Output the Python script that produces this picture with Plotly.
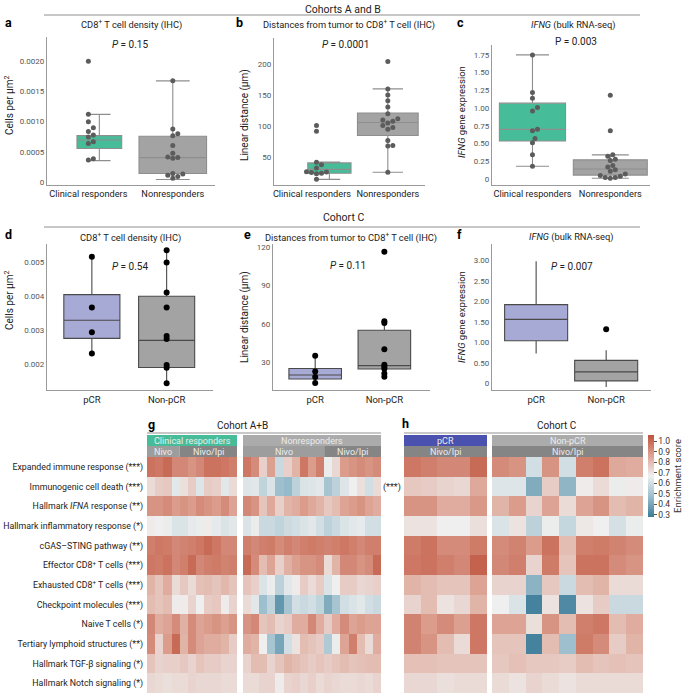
import numpy as np
import plotly.graph_objects as go

W, H = 685, 693
FONT = "Roboto"

# ---------------- data: box panels ----------------
a_cats = ["Clinical responders", "Nonresponders"]
a_resp = [0.00199, 0.00112, 0.00100, 0.00090, 0.00084, 0.00078, 0.00075, 0.00067, 0.00064, 0.00039, 0.00037]
a_non = [0.00167, 0.00088, 0.00080, 0.00077, 0.00061, 0.00048, 0.00042, 0.00041, 0.00040, 0.00015, 0.00014, 0.00012, 0.00010, 0.00007]
a_stats = {"q1": [0.00056, 0.00015], "median": [0.00070, 0.00041], "q3": [0.00077, 0.00076],
           "lo": [0.00036, 0.00005], "hi": [0.00112, 0.00167]}

b_resp = [101, 92, 42, 38, 33, 27, 26.5, 25.5, 24.5, 23.5, 14.6]
b_non = [204, 160, 150, 141, 131, 120, 112, 110, 108, 105, 101, 98, 95, 77, 69, 68, 26]
b_stats = {"q1": [24.5, 85], "median": [30.6, 106], "q3": [41, 121], "lo": [14.6, 26], "hi": [42.5, 160]}

c_resp = [1.75, 1.22, 1.14, 1.01, 0.96, 0.70, 0.68, 0.57, 0.51, 0.34, 0.18]
c_non = [1.18, 0.68, 0.34, 0.32, 0.28, 0.26, 0.19, 0.17, 0.13, 0.11, 0.07, 0.05, 0.04, 0.02, 0.01, 0.02]
c_stats = {"q1": [0.535, 0.055], "median": [0.70, 0.14], "q3": [1.07, 0.27], "lo": [0.18, 0.01], "hi": [1.75, 0.34]}

d_cats = ["pCR", "Non-pCR"]
d_pcr = [0.00515, 0.00366, 0.00294, 0.00232]
d_non = [0.00534, 0.00498, 0.00410, 0.00366, 0.00283, 0.00274, 0.00198, 0.00190, 0.00145]
d_stats = {"q1": [0.00276, 0.00191], "median": [0.00329, 0.00270], "q3": [0.00404, 0.00399],
           "lo": [0.00232, 0.00144], "hi": [0.00515, 0.00534]}

e_pcr = [34.7, 22.3, 17.9, 13.1]
e_non = [116.8, 62, 60.6, 39.8, 27.5, 26, 24.5, 20.6, 18.2]
e_stats = {"q1": [16.4, 24.2], "median": [19.5, 26.9], "q3": [24.6, 54.8], "lo": [12.9, 17.9], "hi": [34.7, 62]}

f_non_outliers = [1.32]
f_stats = {"q1": [1.04, 0.06], "median": [1.56, 0.28], "q3": [1.92, 0.56], "lo": [0.73, -0.09], "hi": [2.98, 0.81]}

# ---------------- data: heatmaps ----------------
row_labels = [
    "Expanded immune response (***)",
    "Immunogenic cell death (***)",
    "Hallmark <i>IFNA</i> response (**)",
    "Hallmark inflammatory response (*)",
    "cGAS–STING pathway (**)",
    "Effector CD8<sup>+</sup> T cells (***)",
    "Exhausted CD8<sup>+</sup> T cells (***)",
    "Checkpoint molecules (***)",
    "Naive T cells (*)",
    "Tertiary lymphoid structures (**)",
    "Hallmark TGF-β signaling (*)",
    "Hallmark Notch signaling (*)",
]

g_resp = [
    [0.98, 0.97, 1.00, 0.93, 0.93, 0.90, 0.93, 0.98, 0.98, 0.97, 0.95],
    [0.72, 0.76, 0.77, 0.64, 0.71, 0.76, 0.63, 0.76, 0.75, 0.64, 0.72],
    [0.90, 0.90, 0.92, 0.88, 0.90, 0.88, 0.92, 0.90, 0.88, 0.92, 0.86],
    [0.68, 0.67, 0.66, 0.62, 0.62, 0.65, 0.66, 0.68, 0.65, 0.62, 0.64],
    [0.95, 0.97, 0.96, 0.93, 0.94, 0.95, 0.97, 1.00, 0.97, 0.93, 0.93],
    [0.97, 0.96, 0.98, 0.93, 0.95, 1.00, 0.93, 0.95, 0.96, 0.94, 0.95],
    [0.82, 0.78, 0.84, 0.72, 0.77, 0.72, 0.79, 0.80, 0.78, 0.81, 0.78],
    [0.80, 0.78, 0.80, 0.68, 0.68, 0.74, 0.67, 0.76, 0.77, 0.68, 0.74],
    [0.93, 0.84, 0.86, 0.92, 0.83, 0.92, 0.86, 0.88, 0.90, 0.87, 0.90],
    [0.92, 0.74, 0.88, 1.00, 0.82, 0.92, 0.86, 0.84, 0.84, 0.82, 0.76],
    [0.78, 0.74, 0.75, 0.75, 0.77, 0.74, 0.78, 0.76, 0.76, 0.74, 0.74],
    [0.73, 0.72, 0.71, 0.72, 0.72, 0.74, 0.73, 0.73, 0.73, 0.72, 0.72],
]
g_non = [
    [0.97, 0.92, 0.75, 0.87, 0.58, 0.75, 0.82, 0.97, 0.88, 0.95, 0.66, 0.73, 0.88, 0.90, 0.92, 0.90, 0.92],
    [0.63, 0.64, 0.56, 0.62, 0.48, 0.46, 0.55, 0.62, 0.63, 0.64, 0.50, 0.55, 0.63, 0.67, 0.71, 0.60, 0.72],
    [0.93, 0.90, 0.78, 0.85, 0.75, 0.82, 0.84, 0.88, 0.85, 0.82, 0.77, 0.80, 0.86, 0.88, 0.90, 0.86, 0.84],
    [0.62, 0.66, 0.58, 0.58, 0.56, 0.59, 0.60, 0.62, 0.64, 0.60, 0.55, 0.58, 0.62, 0.64, 0.65, 0.60, 0.60],
    [0.95, 0.93, 0.95, 0.96, 0.92, 0.95, 0.93, 0.95, 0.96, 0.95, 0.94, 0.95, 0.97, 0.95, 0.93, 0.95, 0.95],
    [1.00, 0.92, 0.80, 0.86, 0.75, 0.83, 0.87, 0.90, 0.90, 0.92, 0.72, 0.82, 0.93, 0.93, 0.90, 0.92, 1.00],
    [0.78, 0.75, 0.62, 0.66, 0.55, 0.64, 0.68, 0.76, 0.72, 0.76, 0.62, 0.67, 0.76, 0.76, 0.73, 0.74, 0.75],
    [0.72, 0.64, 0.48, 0.56, 0.36, 0.50, 0.60, 0.58, 0.60, 0.56, 0.42, 0.50, 0.60, 0.62, 0.64, 0.60, 0.58],
    [0.90, 0.93, 0.78, 0.80, 0.74, 0.76, 0.84, 0.84, 0.93, 0.84, 0.76, 0.84, 0.92, 0.86, 0.88, 0.86, 0.86],
    [0.84, 0.82, 0.67, 0.50, 0.40, 0.60, 0.70, 0.80, 0.78, 0.76, 0.52, 0.66, 0.86, 0.95, 0.80, 0.72, 0.84],
    [0.74, 0.80, 0.80, 0.74, 0.78, 0.82, 0.80, 0.78, 0.76, 0.78, 0.76, 0.78, 0.80, 0.78, 0.79, 0.80, 0.80],
    [0.72, 0.72, 0.74, 0.74, 0.68, 0.74, 0.75, 0.73, 0.75, 0.72, 0.74, 0.73, 0.72, 0.72, 0.73, 0.72, 0.74],
]
h_pcr = [
    [0.97, 0.95, 0.93, 0.93, 1.00],
    [0.77, 0.76, 0.74, 0.73, 0.85],
    [0.90, 0.90, 0.84, 0.84, 0.89],
    [0.70, 0.70, 0.67, 0.67, 0.71],
    [0.96, 0.98, 0.92, 0.92, 0.96],
    [0.97, 0.98, 0.95, 0.93, 1.02],
    [0.82, 0.80, 0.78, 0.78, 0.86],
    [0.74, 0.80, 0.70, 0.73, 0.82],
    [0.94, 0.88, 0.92, 0.87, 0.97],
    [0.94, 0.90, 0.80, 0.72, 0.97],
    [0.79, 0.79, 0.78, 0.78, 0.78],
    [0.73, 0.73, 0.71, 0.72, 0.72],
]
h_non = [
    [0.92, 0.90, 0.60, 0.90, 0.60, 0.95, 0.98, 0.85, 0.84],
    [0.63, 0.63, 0.42, 0.76, 0.45, 0.68, 0.72, 0.66, 0.68],
    [0.82, 0.88, 0.74, 0.86, 0.72, 0.86, 0.90, 0.80, 0.82],
    [0.62, 0.70, 0.55, 0.66, 0.57, 0.69, 0.67, 0.61, 0.66],
    [0.92, 0.94, 0.88, 0.98, 0.80, 0.95, 0.96, 0.94, 0.92],
    [0.93, 0.95, 0.74, 0.96, 0.78, 0.98, 0.98, 0.92, 0.90],
    [0.74, 0.74, 0.44, 0.77, 0.58, 0.80, 0.82, 0.72, 0.72],
    [0.67, 0.62, 0.30, 0.70, 0.32, 0.70, 0.76, 0.58, 0.58],
    [0.86, 0.86, 0.71, 0.90, 0.80, 0.95, 0.97, 0.80, 0.84],
    [0.78, 0.78, 0.30, 0.80, 0.48, 0.96, 0.92, 0.76, 0.82],
    [0.77, 0.79, 0.77, 0.77, 0.76, 0.80, 0.78, 0.79, 0.78],
    [0.72, 0.70, 0.74, 0.72, 0.70, 0.72, 0.72, 0.72, 0.72],
]
g_resp_treat = ["Nivo"] * 4 + ["Nivo/Ipi"] * 7
g_non_treat = ["Nivo"] * 10 + ["Nivo/Ipi"] * 7
cbar_ticks = [0.3, 0.4, 0.5, 0.6, 0.7, 0.8, 0.9, 1.0]


# ---------------- helpers ----------------
def dx(p):
    return p / W


def dy(p):
    return 1 - p / H


fig = go.Figure()
annotations = []
shapes = []
layout_axes = {}


def ann(x, y, text, size=10, color="#222", xanchor="center", yanchor="middle", angle=0, bold=False):
    if bold:
        text = "<b>" + text + "</b>"
    annotations.append(dict(x=dx(x), y=dy(y), xref="paper", yref="paper", text=text, showarrow=False,
                            xanchor=xanchor, yanchor=yanchor, textangle=angle,
                            font=dict(family=FONT, size=size, color=color)))


def hline(x0, x1, y, color="#b5b5b5", width=1.5):
    shapes.append(dict(type="line", xref="paper", yref="paper", x0=dx(x0), x1=dx(x1), y0=dy(y), y1=dy(y),
                       line=dict(color=color, width=width)))


def swarm(vals, ypu, xpu, d):
    vals = np.asarray(vals, float)
    order = np.argsort(vals)
    placed = []
    offs = np.zeros(len(vals))
    for i in order:
        yp = vals[i] * ypu
        best = None
        for k in range(0, 40):
            cands = [0.0] if k == 0 else [k * 0.5 * d, -k * 0.5 * d]
            for s in cands:
                if all((s - px_) ** 2 + (yp - py_) ** 2 >= (0.92 * d) ** 2 for px_, py_ in placed):
                    best = s
                    break
            if best is not None:
                break
        placed.append((best, yp))
        offs[i] = best / xpu
    return offs


def box_panel(idx, px_box, xr, yr, cats, stats, box_pos, box_w, fills, line_col, whisk,
              points, pt_pos, pt_col, pt_size, do_swarm, yticks, yticktext, cat_size):
    x0, x1, y0, y1 = px_box
    xa = "x" if idx == 1 else f"x{idx}"
    ya = "y" if idx == 1 else f"y{idx}"
    for i in range(2):
        fig.add_trace(go.Box(
            x=[box_pos[i]], q1=[stats["q1"][i]], median=[stats["median"][i]], q3=[stats["q3"][i]],
            lowerfence=[stats["lo"][i]], upperfence=[stats["hi"][i]],
            width=box_w[i], fillcolor=fills[i], line=dict(color=line_col, width=1.1),
            whiskerwidth=whisk, boxpoints=False, showlegend=False, xaxis=xa, yaxis=ya))
    xpu = (x1 - x0) / (xr[1] - xr[0])
    ypu = (y1 - y0) / (yr[1] - yr[0])
    for i, pts in enumerate(points):
        if pts is None:
            continue
        if do_swarm:
            off = swarm(pts, ypu, xpu, pt_size)
        else:
            off = np.zeros(len(pts))
        fig.add_trace(go.Scatter(x=pt_pos[i] + off, y=pts, mode="markers",
                                 marker=dict(color=pt_col, size=pt_size, line=dict(width=0)),
                                 showlegend=False, xaxis=xa, yaxis=ya))
    kx = "xaxis" if idx == 1 else f"xaxis{idx}"
    ky = "yaxis" if idx == 1 else f"yaxis{idx}"
    layout_axes[kx] = dict(domain=[dx(x0), dx(x1)], range=xr, anchor=ya, showgrid=False, zeroline=False,
                           showline=True, linecolor="#9a9a9a", linewidth=1.2, ticks="", automargin=False,
                           tickvals=[0, 1], ticktext=cats, tickangle=0,
                           tickfont=dict(family=FONT, size=cat_size, color="#222"))
    layout_axes[ky] = dict(domain=[dy(y1), dy(y0)], range=yr, anchor=xa, showgrid=False, zeroline=False,
                           showline=True, linecolor="#9a9a9a", linewidth=1.2, ticks="", automargin=False,
                           tickvals=yticks, ticktext=yticktext,
                           tickfont=dict(family=FONT, size=8, color="#555"))


TEAL = "#47bc99"
GREY = "#a3a3a3"
LAV = "#a8aad6"

box_panel(1, (47, 215, 37, 185), [-0.49, 1.5], [-0.00004, 0.00239], a_cats, a_stats,
          [0.13, 1.0], [0.53, 0.8], [TEAL, GREY], "#8e8e8e", 0.5,
          [a_resp, a_non], [0, 1], "#5c5c5c", 5, True,
          [0, 0.0005, 0.001, 0.0015, 0.002], ["0", "0.0005", "0.0010", "0.0015", "0.0020"], 9.2)
box_panel(2, (274, 425, 38, 185), [-0.5, 1.49], [5.5, 241.8], a_cats, b_stats,
          [0.23, 1.0], [0.57, 0.8], [TEAL, GREY], "#8e8e8e", 0.5,
          [b_resp, b_non], [0.06, 1], "#5c5c5c", 5, True,
          [50, 100, 150, 200], ["50", "100", "150", "200"], 9.2)
box_panel(3, (492, 650, 45, 185), [-0.52, 1.51], [-0.085, 1.89], a_cats, c_stats,
          [0.0, 1.0], [0.85, 0.95], [TEAL, GREY], "#8e8e8e", 0.5,
          [c_resp, c_non], [0, 1], "#5c5c5c", 5, True,
          [0, 0.25, 0.5, 0.75, 1.0, 1.25, 1.5, 1.75], ["0", "0.25", "0.50", "0.75", "1.00", "1.25", "1.50", "1.75"], 9.2)
box_panel(4, (47, 213, 244, 390), [-0.6, 1.62], [0.00125, 0.00552], d_cats, d_stats,
          [0.0, 1.0], [0.75, 0.75], [LAV, GREY], "#4a4a4a", 0,
          [d_pcr, d_non], [0, 1], "#000000", 6, False,
          [0.002, 0.003, 0.004, 0.005], ["0.002", "0.003", "0.004", "0.005"], 9.5)
box_panel(5, (273, 430, 244, 390), [-0.61, 1.66], [7.66, 122.9], d_cats, e_stats,
          [0.0, 1.0], [0.76, 0.76], [LAV, GREY], "#4a4a4a", 0,
          [e_pcr, e_non], [0, 1], "#000000", 6, False,
          [30, 60, 90, 120], ["30", "60", "90", "120"], 9.5)
box_panel(6, (492, 651, 244, 390), [-0.63, 1.64], [-0.163, 3.40], d_cats, f_stats,
          [0.0, 1.0], [0.9, 0.9], [LAV, GREY], "#4a4a4a", 0,
          [None, f_non_outliers], [0, 1], "#000000", 6, False,
          [0, 0.5, 1, 1.5, 2, 2.5, 3], ["0", "0.50", "1.00", "1.50", "2.00", "2.50", "3.00"], 9.5)

# ---------------- heatmaps ----------------
ZMIN, ZMAX = 0.28, 1.06
cscale = [[0.0, "#3b7b98"], [0.25, "#9cbfcd"], [0.5, "#efefef"], [0.75, "#dda293"], [1.0, "#bf523b"]]
ROW_TOP, ROW_BOT = 457, 693
heat_specs = [
    (7, g_resp, 147, 237),
    (8, g_non, 243, 381),
    (9, h_pcr, 404, 487),
    (10, h_non, 492, 643),
]
for idx, z, x0, x1 in heat_specs:
    ncol = len(z[0])
    show = idx == 10
    fig.add_trace(go.Heatmap(
        z=z, x=list(range(ncol)), y=list(range(len(row_labels))), zmin=ZMIN, zmax=ZMAX,
        colorscale=cscale, showscale=show, xaxis=f"x{idx}", yaxis=f"y{idx}",
        colorbar=dict(x=dx(648), xanchor="left", xpad=0, ypad=0, y=dy(476), yanchor="middle", len=82 / H,
                      thickness=6, outlinewidth=0, ticks="outside", ticklen=3, tickcolor="#555",
                      tickvals=cbar_ticks, ticktext=[f"{t:.1f}" for t in cbar_ticks],
                      tickfont=dict(family=FONT, size=8.5, color="#333"),
                      title=dict(text="Enrichment score", side="right",
                                 font=dict(family=FONT, size=9.5, color="#333"))) if show else None))
    layout_axes[f"xaxis{idx}"] = dict(domain=[dx(x0), dx(x1)], range=[-0.5, ncol - 0.5], anchor=f"y{idx}",
                                      showticklabels=False, showgrid=False, zeroline=False, showline=False,
                                      ticks="", automargin=False)
    ydict = dict(domain=[dy(ROW_BOT), dy(ROW_TOP)], range=[len(row_labels) - 0.5, -0.5], anchor=f"x{idx}",
                 showgrid=False, zeroline=False, showline=False, ticks="", automargin=False)
    if idx == 7:
        ydict.update(tickvals=list(range(len(row_labels))), ticktext=row_labels,
                     tickfont=dict(family=FONT, size=8.8, color="#222"), ticklabelstandoff=3)
    else:
        ydict.update(showticklabels=False)
    layout_axes[f"yaxis{idx}"] = ydict


def band(xa, c0, c1, ytop, ybot, color, text):
    shapes.append(dict(type="rect", xref=xa, yref="paper", x0=c0, x1=c1, y0=dy(ybot), y1=dy(ytop),
                       fillcolor=color, line=dict(width=0)))
    annotations.append(dict(x=(c0 + c1) / 2, y=dy((ytop + ybot) / 2), xref=xa, yref="paper", text=text,
                            showarrow=False, font=dict(family=FONT, size=9, color="#ececec")))


def treat_bands(xa, treats, top, bot):
    start = 0
    for i in range(1, len(treats) + 1):
        if i == len(treats) or treats[i] != treats[start]:
            col = "#9d9d9d" if treats[start] == "Nivo" else "#858585"
            band(xa, start - 0.5, i - 0.5, top, bot, col, treats[start])
            start = i


band("x7", -0.5, len(g_resp[0]) - 0.5, 435, 446, TEAL, "Clinical responders")
band("x8", -0.5, len(g_non[0]) - 0.5, 435, 446, "#ababab", "Nonresponders")
treat_bands("x7", g_resp_treat, 446, 457)
treat_bands("x8", g_non_treat, 446, 457)
band("x9", -0.5, len(h_pcr[0]) - 0.5, 435, 446, "#4a51ae", "pCR")
band("x10", -0.5, len(h_non[0]) - 0.5, 435, 446, "#ababab", "Non-pCR")
band("x9", -0.5, len(h_pcr[0]) - 0.5, 446, 457, "#858585", "Nivo/Ipi")
band("x10", -0.5, len(h_non[0]) - 0.5, 446, 457, "#858585", "Nivo/Ipi")

# ---------------- texts & lines ----------------
ann(343, 9, "Cohorts A and B", 10.5)
hline(44, 640, 15)
ann(343, 217, "Cohort C", 10.5)
hline(44, 640, 227)

ann(3, 22, "a", 12.5, "#000", xanchor="left", bold=True)
ann(234, 22, "b", 12.5, "#000", xanchor="left", bold=True)
ann(455, 22, "c", 12.5, "#000", xanchor="left", bold=True)
ann(3, 234, "d", 12.5, "#000", xanchor="left", bold=True)
ann(242, 234, "e", 12.5, "#000", xanchor="left", bold=True)
ann(455, 234, "f", 12.5, "#000", xanchor="left", bold=True)
ann(146, 424, "g", 12.5, "#000", xanchor="left", bold=True)
ann(400, 423, "h", 12.5, "#000", xanchor="left", bold=True)

TS = 9.3
ann(131, 25, "CD8<sup>+</sup> T cell density (IHC)", TS)
ann(349, 25, "Distances from tumor to CD8<sup>+</sup> T cell (IHC)", TS)
ann(573, 25, "<i>IFNG</i> (bulk RNA-seq)", TS)
ann(130, 237, "CD8<sup>+</sup> T cell density (IHC)", TS)
ann(351, 237, "Distances from tumor to CD8<sup>+</sup> T cell (IHC)", TS)
ann(571, 237, "<i>IFNG</i> (bulk RNA-seq)", TS)

ann(130, 44, "<i>P</i> = 0.15", 10)
ann(345, 44, "<i>P</i> = 0.0001", 10)
ann(576, 42, "P = 0.003", 10)
ann(130, 266, "<i>P</i> = 0.54", 10)
ann(348, 265, "<i>P</i> = 0.11", 10)
ann(572, 266, "<i>P</i> = 0.007", 10)

ann(9, 105, "Cells per µm<sup>2</sup>", 10, angle=-90)
ann(245, 115, "Linear distance (µm)", 10, angle=-90)
ann(461, 112, "<i>IFNG</i> gene expression", 9.5, angle=-90)
ann(9, 300, "Cells per µm<sup>2</sup>", 10, angle=-90)
ann(245, 317, "Linear distance (µm)", 10, angle=-90)
ann(461, 317, "<i>IFNG</i> gene expression", 9.5, angle=-90)

ann(242, 426, "Cohort A+B", 10)
hline(147, 381, 433, "#c8c8c8", 2)
ann(557, 425, "Cohort C", 10)
hline(404, 643, 433, "#c8c8c8", 2)
ann(392, 487, "(***)", 9)

fig.update_layout(
    width=W, height=H, margin=dict(l=0, r=0, t=0, b=0, autoexpand=False),
    paper_bgcolor="white", plot_bgcolor="white", boxmode="overlay",
    font=dict(family=FONT, size=10, color="#222"),
    annotations=annotations, shapes=shapes, showlegend=False,
    **layout_axes,
)
fig.write_html("out.html", config={"displayModeBar": False},
               post_script="document.body.style.margin='0px';")
